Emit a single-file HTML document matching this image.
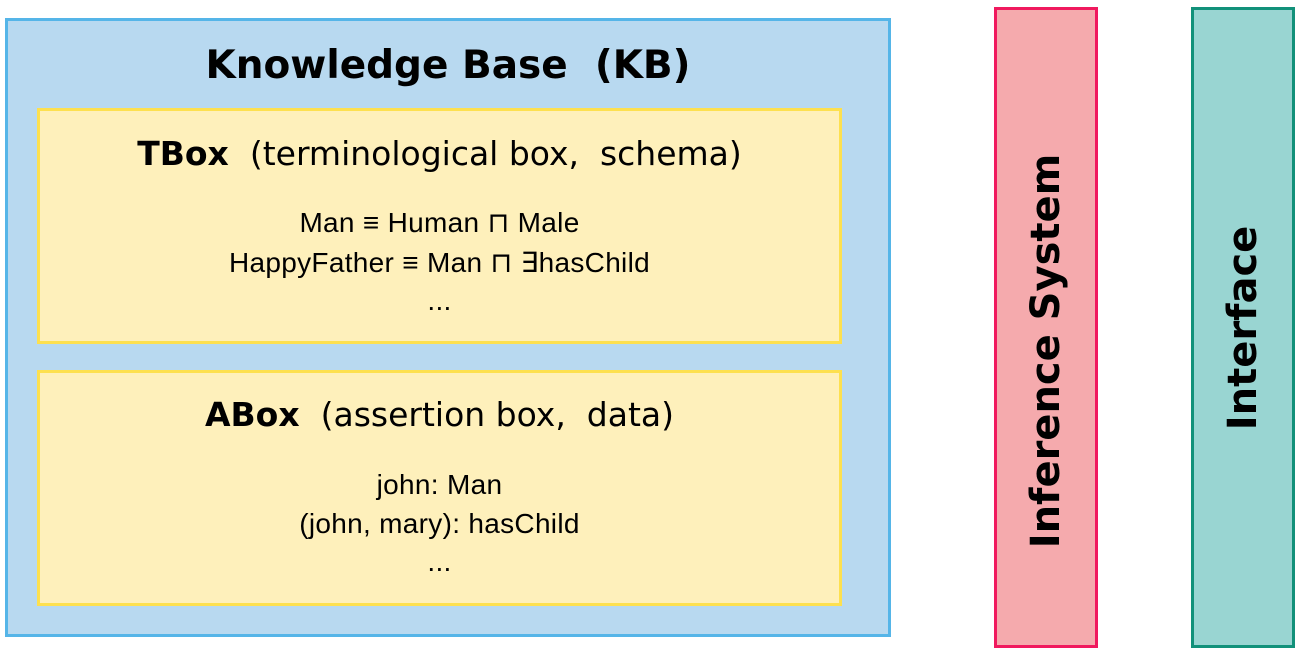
<!DOCTYPE html>
<html><head><meta charset="utf-8"><style>
body{margin:0;width:1304px;height:659px;background:#fff;position:relative;overflow:hidden;font-family:"DejaVu Sans",sans-serif;color:#000}
.b{position:absolute;box-sizing:border-box}
.t{position:absolute;left:0;right:0;text-align:center;white-space:pre;line-height:1.15}
.g{font-family:"Liberation Sans",sans-serif;font-size:28px;letter-spacing:0.3px}
.v{position:absolute;transform:translate(-50%,-50%) rotate(-90deg);font-weight:bold;font-size:40px;white-space:nowrap}
</style></head><body>
<div class="b" style="left:5px;top:18px;width:886px;height:619px;background:#b8d9f0;border:3px solid #55b5e8"></div>
<div class="t" style="left:5px;width:886px;top:44px;font-size:39px;font-weight:bold">Knowledge Base  (KB)</div>
<div class="b" style="left:37px;top:108px;width:805px;height:236px;background:#fef0bb;border:3px solid #fde04f"></div>
<div class="t" style="left:37px;width:805px;top:135px;font-size:33px"><b>TBox</b>  (terminological box,  schema)</div>
<div class="t g" style="left:37px;width:805px;top:207px">Man ≡ Human ⊓ Male</div>
<div class="t g" style="left:37px;width:805px;top:247px">HappyFather ≡ Man ⊓ ∃hasChild</div>
<div class="t g" style="left:37px;width:805px;top:285px">...</div>
<div class="b" style="left:37px;top:370px;width:805px;height:236px;background:#fef0bb;border:3px solid #fde04f"></div>
<div class="t" style="left:37px;width:805px;top:396px;font-size:33px"><b>ABox</b>  (assertion box,  data)</div>
<div class="t g" style="left:37px;width:805px;top:469px">john: Man</div>
<div class="t g" style="left:37px;width:805px;top:508px">(john, mary): hasChild</div>
<div class="t g" style="left:37px;width:805px;top:546px">...</div>
<div class="b" style="left:994px;top:7px;width:104px;height:641px;background:#f5aaad;border:3px solid #f0195e"></div>
<div class="v" style="left:1046px;top:351px">Inference System</div>
<div class="b" style="left:1191px;top:7px;width:104px;height:641px;background:#99d5d2;border:3px solid #12917a"></div>
<div class="v" style="left:1243px;top:328px">Interface</div>
</body></html>
